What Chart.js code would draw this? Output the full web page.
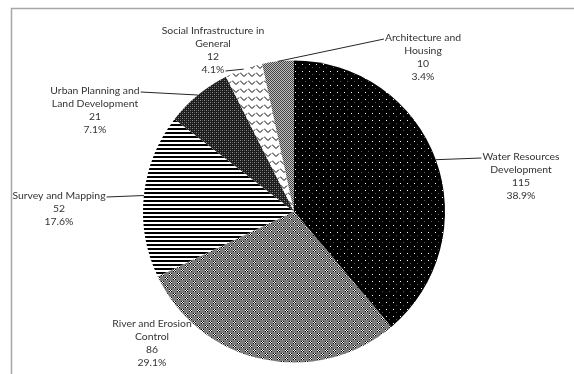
<!DOCTYPE html>
<html lang="en">
<head>
    <meta charset="UTF-8">
    <title>Projects by Sector</title>
    <style>
      body {
        margin: 0;
        padding: 0;
        background-color: #ffffff;
      }
      #wrap {
        width: 574px;
        height: 374px;
      }
    </style>
    <script src="https://cdn.jsdelivr.net/npm/chart.js"></script>
</head>

<body>

    <div id="wrap"><canvas id="chartCanvas" width="574" height="374"></canvas></div>

   <script>
    // sectors and number of projects
    const sectors = [
      'Water Resources Development',
      'River and Erosion Control',
      'Survey and Mapping',
      'Urban Planning and Land Development',
      'Social Infrastructure in General',
      'Architecture and Housing'
    ];
    const projects = [115, 86, 52, 21, 12, 10];

    // how each sector name is split over lines
    const nameLines = [
      ['Water Resources', 'Development'],
      ['River and Erosion', 'Control'],
      ['Survey and Mapping'],
      ['Urban Planning and', 'Land Development'],
      ['Social Infrastructure in', 'General'],
      ['Architecture and', 'Housing']
    ];

    // label placement: text centre x, first line y, line the leader starts from (-1 = none)
    const labelX = [521, 152, 59, 95, 213, 423];
    const labelY = [157, 324, 196, 91, 31, 38];
    const leaderLine = [0, -1, 0, 0, 3, 0];
    const lineStep = 13;

    // small bitmap tiles used as fill patterns
    function makePattern(size, draw) {
      const c = document.createElement('canvas');
      c.width = size;
      c.height = size;
      const g = c.getContext('2d');
      draw(g);
      return g.createPattern(c, 'repeat');
    }

    function px(g, color, pts) {
      g.fillStyle = color;
      pts.forEach(p => g.fillRect(p[0], p[1], 1, 1));
    }

    const fills = [
      // black with white / grey dots
      makePattern(7, g => {
        g.fillStyle = '#000';
        g.fillRect(0, 0, 7, 7);
        px(g, '#ffffff', [[1, 1]]);
        px(g, '#5a5a5a', [[4, 4]]);
      }),
      // grey with small checkered crosses
      makePattern(8, g => {
        g.fillStyle = '#7c7c7c';
        g.fillRect(0, 0, 8, 8);
        px(g, '#000', [[1, 1], [3, 1], [2, 2], [1, 3], [3, 3], [5, 5], [7, 5], [6, 6], [5, 7], [7, 7]]);
        px(g, '#fff', [[2, 1], [1, 2], [3, 2], [2, 3], [6, 5], [5, 6], [7, 6], [6, 7]]);
      }),
      // horizontal stripes
      makePattern(4, g => {
        g.fillStyle = '#fff';
        g.fillRect(0, 0, 4, 4);
        g.fillStyle = '#000';
        g.fillRect(0, 0, 4, 2);
      }),
      // dark plaid
      makePattern(4, g => {
        g.fillStyle = '#1c1c1c';
        g.fillRect(0, 0, 4, 4);
        px(g, '#8c8c8c', [[0, 0], [2, 2]]);
        px(g, '#505050', [[0, 2], [2, 0]]);
      }),
      // white with black scallops
      makePattern(8, g => {
        g.fillStyle = '#fff';
        g.fillRect(0, 0, 8, 8);
        g.strokeStyle = '#000';
        g.lineWidth = 1;
        g.beginPath();
        g.moveTo(0, 0.5);
        g.lineTo(4, 4.5);
        g.lineTo(7, 1.5);
        g.stroke();
      }),
      // fine grey checker
      makePattern(2, g => {
        g.fillStyle = '#c0c0c0';
        g.fillRect(0, 0, 2, 2);
        px(g, '#444', [[0, 0], [1, 1]]);
      })
    ];

    // outer frame: top and left edges only
    const framePlugin = {
      id: 'frame',
      beforeDraw(chart) {
        const ctx = chart.ctx;
        ctx.save();
        ctx.strokeStyle = '#a6a6a6';
        ctx.lineWidth = 1.5;
        ctx.beginPath();
        ctx.moveTo(11.5, chart.height);
        ctx.lineTo(11.5, 8.5);
        ctx.lineTo(chart.width, 8.5);
        ctx.stroke();
        ctx.restore();
      }
    };

    // category / value / percent labels with leader lines
    const labelPlugin = {
      id: 'sliceLabels',
      afterDatasetsDraw(chart) {
        const ctx = chart.ctx;
        const meta = chart.getDatasetMeta(0);
        const total = projects.reduce((a, b) => a + b, 0);
        ctx.save();
        ctx.font = '10.4px Lato';
        ctx.fillStyle = '#333333';
        ctx.textAlign = 'center';
        ctx.textBaseline = 'middle';

        meta.data.forEach((arc, i) => {
          const p = arc.getProps(['x', 'y', 'startAngle', 'endAngle', 'outerRadius'], true);
          const mid = (p.startAngle + p.endAngle) / 2;
          const ax = p.x + Math.cos(mid) * p.outerRadius;
          const ay = p.y + Math.sin(mid) * p.outerRadius;

          const lines = nameLines[i].concat([
            String(projects[i]),
            (projects[i] / total * 100).toFixed(1) + '%'
          ]);
          lines.forEach((t, k) => ctx.fillText(t, labelX[i], labelY[i] + k * lineStep));

          if (leaderLine[i] >= 0) {
            const t = lines[leaderLine[i]];
            const w = ctx.measureText(t).width;
            const ly = labelY[i] + leaderLine[i] * lineStep + 1;
            const sx = ax > labelX[i] ? labelX[i] + w / 2 + 1 : labelX[i] - w / 2 - 1;
            ctx.strokeStyle = '#262626';
            ctx.lineWidth = 1;
            ctx.beginPath();
            ctx.moveTo(sx, ly);
            ctx.lineTo(ax, ay);
            ctx.stroke();
          }
        });
        ctx.restore();
      }
    };

    const ctx = document.getElementById('chartCanvas').getContext('2d');

    new Chart(ctx, {
      type: 'pie',
      data: {
        labels: sectors,
        datasets: [{
          data: projects,
          backgroundColor: fills,
          borderWidth: 0
        }]
      },
      options: {
        responsive: false,
        animation: false,
        layout: {
          padding: { left: 143, right: 129, top: 60, bottom: 11 }
        },
        plugins: {
          legend: { display: false },
          tooltip: { enabled: false }
        }
      },
      plugins: [framePlugin, labelPlugin]
    });
  </script>

</body>
</html>
